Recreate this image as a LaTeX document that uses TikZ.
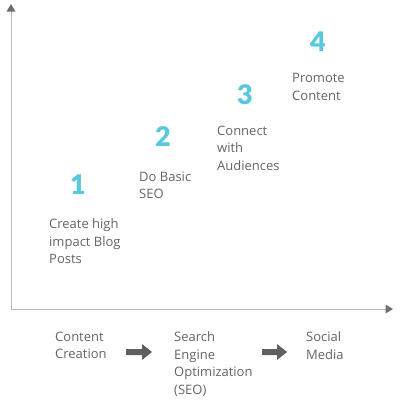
\documentclass[tikz,border=0pt]{standalone}
\usepackage{fontspec}
\setmainfont{Open Sans}
\newfontfamily\numfont{Lato Black}
\definecolor{axisgray}{RGB}{185,185,185}
\definecolor{tipgray}{RGB}{110,110,110}
\definecolor{txtgray}{RGB}{100,100,100}
\definecolor{numcyan}{RGB}{88,200,222}
\definecolor{arrgray}{RGB}{95,95,95}
\begin{document}
\begin{tikzpicture}[x=1pt,y=-1pt,
  lbl/.style={anchor=north west,inner sep=0pt,align=left,text=txtgray,font=\fontsize{13}{17.5}\selectfont},
  num/.style={inner sep=0pt,text=numcyan,font=\fontsize{27}{27}\numfont},
  axis/.style={draw=axisgray,line width=1pt}]
\useasboundingbox (0,0) rectangle (400,400);
% axes
\coordinate (O) at (11,309);
\coordinate (Ytop) at (11,11);
\coordinate (Xend) at (386,309);
\draw[axis] (Ytop) -- (O) -- (Xend);
\fill[tipgray] (11,4) -- (15.5,11.5) -- (6.5,11.5) -- cycle;
\fill[tipgray] (393,309) -- (385.5,304.5) -- (385.5,313.5) -- cycle;
% numbers
\node[num] (n1) at (78,185) {1};
\node[num] (n2) at (163,137) {2};
\node[num] (n3) at (245,95) {3};
\node[num] (n4) at (318,42) {4};
% step labels
\node[lbl] (l1) at (49,218.5) {Create high\\impact Blog\\Posts};
\node[lbl] (l2) at (139,171.5) {Do Basic\\SEO};
\node[lbl] (l3) at (217,125.5) {Connect\\with\\Audiences};
\node[lbl] (l4) at (292,73.5) {Promote\\Content};
% bottom labels
\node[lbl] (b1) at (55,331.5) {Content\\Creation};
\node[lbl] (b2) at (174,331.5) {Search\\Engine\\Optimization\\(SEO)};
\node[lbl] (b3) at (306,331.5) {Social\\Media};
% block arrows
\fill[arrgray] (126,349) -- (142,349) -- (142,344) -- (152,352) -- (142,360) -- (142,355) -- (126,355) -- cycle;
\fill[arrgray] (262,349) -- (277,349) -- (277,344) -- (287,352) -- (277,360) -- (277,355) -- (262,355) -- cycle;
\end{tikzpicture}
\end{document}
